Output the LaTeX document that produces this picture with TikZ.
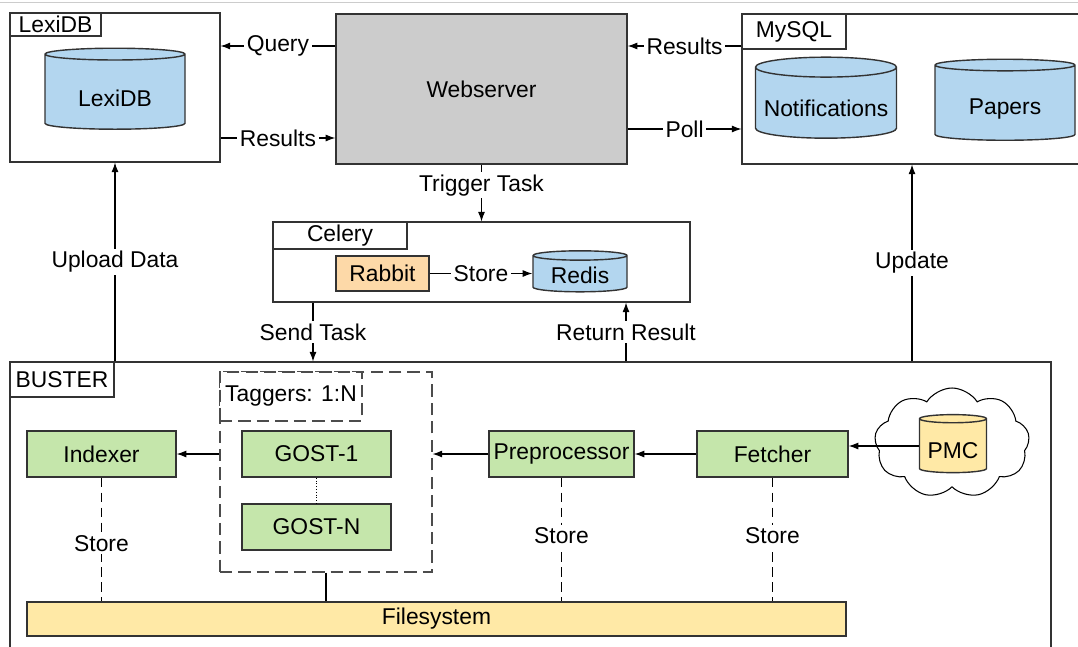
\documentclass[tikz,border=0pt]{standalone}
\usepackage{fontspec}
\setmainfont{Liberation Sans}
\usetikzlibrary{positioning,fit,shapes.geometric,shapes.symbols,arrows.meta}

\definecolor{dbblue}{RGB}{179,214,239}
\definecolor{taskgreen}{RGB}{197,230,171}
\definecolor{fsyellow}{RGB}{255,233,166}
\definecolor{queueorange}{RGB}{253,217,168}
\definecolor{webgray}{RGB}{204,204,204}
\definecolor{linegray}{RGB}{51,51,51}

\def\px{0.02cm}

\tikzset{
  size/.style 2 args={minimum width=#1*\px, minimum height=#2*\px},
  frame/.style={draw=linegray, line width=0.6pt, inner sep=0pt},
  tab/.style={draw=linegray, line width=0.6pt, fill=white, anchor=north west, inner sep=0pt},
  task/.style={draw=linegray, line width=0.8pt, fill=taskgreen, inner sep=0pt},
  drum/.style={cylinder, shape border rotate=90, draw=linegray, line width=0.8pt, fill=dbblue, aspect=0.16, inner sep=0pt},
  conn/.style={draw=black, line width=0.6pt, -{Latex[length=5.5pt,width=4pt]}},
  lbl/.style={fill=white, inner sep=1.5pt},
  storeline/.style={draw=black, line width=0.6pt, dash pattern=on 5.5pt off 3pt},
  grouped/.style={draw=black!70, dash pattern=on 7pt off 3.5pt},
}

\begin{document}
\begin{tikzpicture}[x=\px, y=-\px, every node/.style={font=\fontsize{13}{15}\selectfont}]
  \useasboundingbox (0,0) rectangle (1078,646);
  \draw[black!20] (0,2) -- (1078,2);

  % top row
  \node[frame, fit={(10,13) (220,162)}] (lexi) {};
  \node[tab, size={91}{23}] (lexitab) at (lexi.north west) {LexiDB};
  \node[drum, size={140}{81}, text height=16.5pt] (lexidb) at (115,92) {LexiDB};

  \node[frame, line width=0.8pt, fill=webgray, size={291}{150}] (web) at (481.5,89) {Webserver};

  \node[frame, fit={(742,14) (1090,164)}] (mysql) {};
  \node[tab, size={104}{35}] (mysqltab) at (mysql.north west) {MySQL};
  \node[drum, size={141}{81}, text height=16pt] (notif) at (826,103) {Notifications};
  \node[drum, size={140}{81}, text height=16pt] (papers) at (1005,103) {Papers};

  % celery
  \node[frame, fit={(273,222) (690,302)}] (celery) {};
  \node[tab, size={134}{27}] (celerytab) at (celery.north west) {Celery};
  \node[frame, line width=0.8pt, fill=queueorange, size={93}{35}] (rabbit) at (382.5,273.5) {Rabbit};
  \node[drum, size={94}{41}, text height=11pt] (redis) at (580,274) {Redis};

  % buster
  \node[frame, fit={(10,362) (1051,670)}] (buster) {};
  \node[tab, size={104}{35}] (bustertab) at (buster.north west) {BUSTER};
  \node[frame, grouped, fit={(220,372) (432,572)}] (taggers) {};
  \node[tab, grouped, size={142}{49}] (taggerstab) at (taggers.north west) {Taggers: 1:N};
  \node[task, size={149}{46}] (indexer) at (101.5,454) {Indexer};
  \node[task, size={149}{46}] (gost1) at (316.5,454) {GOST-1};
  \node[task, size={149}{46}] (gostn) at (316.5,527) {GOST-N};
  \node[task, size={145}{46}] (preproc) at (561.5,454) {Preprocessor};
  \node[task, size={151}{46}] (fetcher) at (772.5,454) {Fetcher};
  \node[frame, line width=0.8pt, fill=fsyellow, size={819}{34}] (fs) at (436.5,619) {Filesystem};
  \node[cloud, draw=black, line width=0.6pt, fill=white, cloud puffs=9, cloud puff arc=115, aspect=1.3,
        size={155}{110}] (cloud) at (952,443) {};
  \node[drum, fill=fsyellow, size={67}{58}, text height=14pt] (pmc) at (953,446) {PMC};

  % connectors
  \draw[conn] (web.west |- 0,46) -- node[lbl]{Query} (lexi.east |- 0,46);
  \draw[conn] (lexi.east |- 0,138) -- node[lbl]{Results} (web.west |- 0,138);
  \draw[conn] (mysql.west |- 0,46) -- node[lbl]{Results} (web.east |- 0,46);
  \draw[conn] (web.east |- 0,129) -- node[lbl]{Poll} (mysql.west |- 0,129);
  \draw[conn] (web.south) -- node[lbl, pos=0.36]{Trigger Task} (web.south |- celery.north);
  \draw[conn] (rabbit.east) -- node[lbl]{Store} (rabbit.east -| redis.west);
  \draw[conn] (celery.south -| 313,0) -- node[lbl]{Send Task} (buster.north -| 313,0);
  \draw[conn] (buster.north -| 626,0) -- node[lbl]{Return Result} (celery.south -| 626,0);
  \draw[conn] (buster.north -| 115,0) -- node[lbl]{Upload Data} (lexi.south -| 115,0);
  \draw[conn] (buster.north -| 912,0) -- node[lbl]{Update} (mysql.south -| 912,0);

  \draw[conn] (pmc.west) -- (pmc.west -| fetcher.east);
  \draw[conn] (fetcher.west) -- (preproc.east);
  \draw[conn] (preproc.west) -- (preproc.west -| taggers.east);
  \draw[conn] (taggers.west |- indexer) -- (indexer.east);
  \draw[line width=0.6pt, densely dotted] (gost1) -- (gostn);

  \draw[storeline] (indexer) -- node[lbl, pos=0.53]{Store} (indexer.south |- fs.north);
  \draw[storeline] (preproc) -- node[lbl, pos=0.47]{Store} (preproc.south |- fs.north);
  \draw[storeline] (fetcher) -- node[lbl, pos=0.47]{Store} (fetcher.south |- fs.north);
  \draw[line width=0.6pt] (taggers.south) -- (taggers.south |- fs.north);
\end{tikzpicture}
\end{document}
